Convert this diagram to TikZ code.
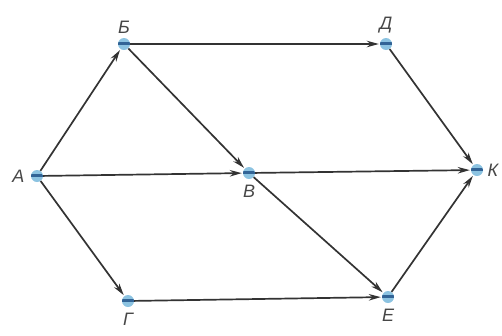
\documentclass[tikz,border=0pt]{standalone}
\usepackage{fontspec}
\setmainfont{Liberation Sans}
\usetikzlibrary{arrows.meta}
\definecolor{vfill}{RGB}{140,195,225}
\definecolor{vbar}{RGB}{50,100,150}

\begin{document}
\begin{tikzpicture}[x=1pt, y=-1pt, >={Stealth[length=12pt,width=6.5pt]}]

  % ---------- Styling ----------
  \tikzset{
    vertex/.style={circle, fill=vfill, inner sep=0pt, minimum size=12pt,
      path picture={\draw[vbar, line width=3pt]
        ([yshift=1pt]path picture bounding box.west) -- ([yshift=1pt]path picture bounding box.east);}},
    edge/.style={draw=black!80, line width=1.7pt, ->, shorten >=1pt, shorten <=0pt},
    labelstyle/.style={font=\fontsize{18}{20}\selectfont\itshape, text=black!72}
  }

  \useasboundingbox (0,0) rectangle (502,335);

  % ---------- Vertices ----------
  \node[vertex] (A) at (37,176) {};
  \node[vertex] (B) at (124,44) {};
  \node[vertex] (D) at (386,44) {};
  \node[vertex] (V) at (249,173) {};
  \node[vertex] (K) at (477,170) {};
  \node[vertex] (G) at (128,301) {};
  \node[vertex] (E) at (388,297) {};

  % ---------- Labels ----------
  \node[labelstyle, left=3pt] (lA) at (A.west) {А};
  \node[labelstyle, above=1pt] (lB) at (B.north) {Б};
  \node[labelstyle, above=1pt] (lD) at (D.north) {Д};
  \node[labelstyle, below=2pt] (lV) at (V.south) {В};
  \node[labelstyle, right=1pt] (lK) at (K.east) {К};
  \node[labelstyle, below=2pt] (lG) at (G.south) {Г};
  \node[labelstyle, below=2pt] (lE) at (E.south) {Е};

  % ---------- Edges ----------
  \draw[edge] (A) -- (B);
  \draw[edge] (A) -- (V);
  \draw[edge] (A) -- (G);
  \draw[edge] (B) -- (D);
  \draw[edge] (B) -- (V);
  \draw[edge] (D) -- (K);
  \draw[edge] (V) -- (K);
  \draw[edge] (V) -- (E);
  \draw[edge] (G) -- (E);
  \draw[edge] (E) -- (K);

\end{tikzpicture}
\end{document}
